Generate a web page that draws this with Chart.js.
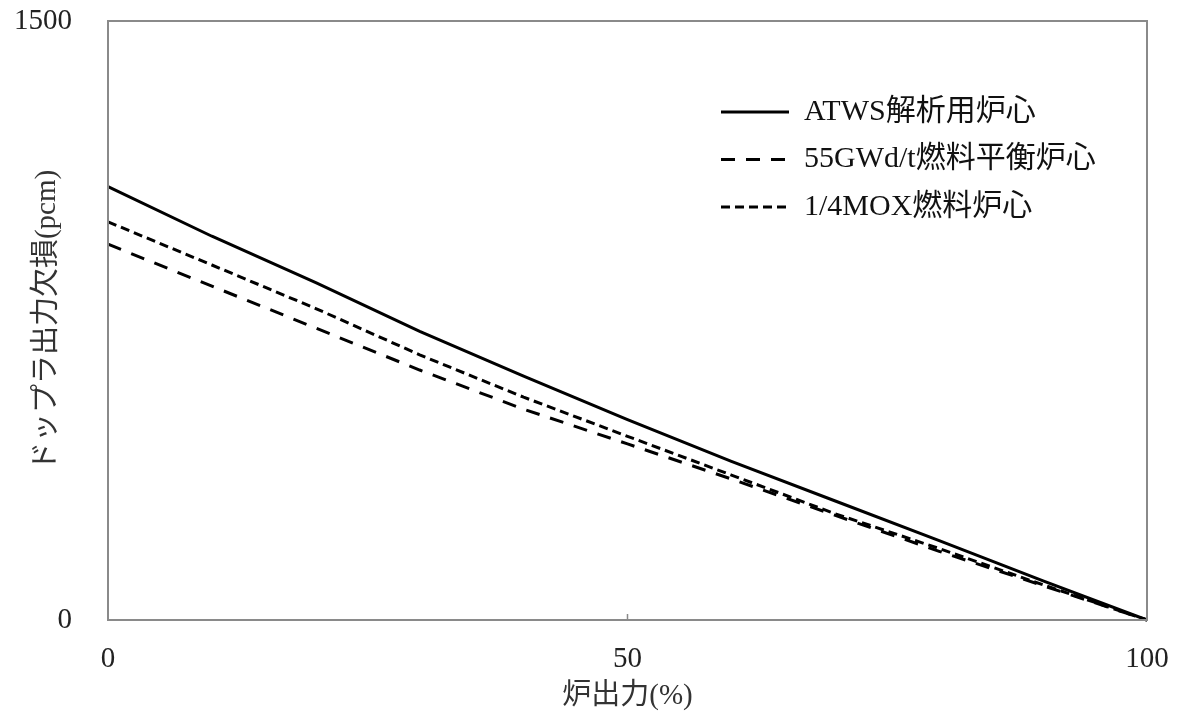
<!DOCTYPE html>
<html><head><meta charset="utf-8">
<script src="https://cdn.jsdelivr.net/npm/chart.js@4.4.1/dist/chart.umd.min.js"></script>
<style>html,body{margin:0;padding:0;background:#fff;}</style>
</head><body>
<canvas id="c" width="1184" height="717" style="display:block;width:1184px;height:717px"></canvas>
<script>
// Data (x = reactor power %, y = Doppler power defect, pcm)
const powerPct   = [0, 10, 20, 30, 40, 50, 60, 70, 80, 90, 100];
const atwsCore   = [1085, 961, 845, 723, 611, 502, 397, 298, 199, 98, 0];
const gwd55Core  = [941, 836, 731, 626, 528, 441, 353, 262, 172, 86, 0];
const moxCore    = [997, 889, 780, 664, 558, 460, 363, 266, 179, 88, 0];
const seriesNames = ['ATWS解析用炉心', '55GWd/t燃料平衡炉心', '1/4MOX燃料炉心'];
const xTicks = [0, 50, 100];
const yTicks = [0, 1500];
const xTitle = '炉出力(%)';
const yTitle = 'ドップラ出力欠損(pcm)';

const FONT = "'Liberation Serif', 'Noto Sans CJK JP', serif";
const toPts = arr => arr.map((v, i) => ({x: powerPct[i], y: v}));

const frame = {
  id: 'frame',
  afterLayout(chart) {
    const lg = chart.legend;
    const pad = lg.options.labels.padding;
    const w = lg.width, h = lg.height;
    lg.left = 721 - pad; lg.top = 97 - pad;
    lg.right = lg.left + w; lg.bottom = lg.top + h;
  },
  afterDatasetsDraw(chart) {
    const {ctx, chartArea: a, scales} = chart;
    ctx.save();
    ctx.strokeStyle = '#8a8a8a';
    ctx.lineWidth = 2;
    ctx.strokeRect(a.left, a.top, a.right - a.left, a.bottom - a.top);
    ctx.lineWidth = 1.5;
    scales.x.ticks.forEach(t => {
      const px = scales.x.getPixelForValue(t.value);
      ctx.beginPath(); ctx.moveTo(px, a.bottom); ctx.lineTo(px, a.bottom - 6); ctx.stroke();
    });
    ctx.restore();
  }
};

new Chart(document.getElementById('c'), {
  type: 'line',
  data: {
    datasets: [
      {label: seriesNames[0], data: toPts(atwsCore), borderColor: '#000', borderWidth: 3, borderDash: []},
      {label: seriesNames[1], data: toPts(gwd55Core), borderColor: '#000', borderWidth: 3, borderDash: [14, 11]},
      {label: seriesNames[2], data: toPts(moxCore), borderColor: '#000', borderWidth: 3, borderDash: [9, 5]}
    ]
  },
  options: {
    responsive: false,
    animation: false,
    devicePixelRatio: 1,
    layout: {padding: {top: 21, right: 37, left: 0, bottom: 0}},
    elements: {point: {radius: 0}, line: {tension: 0, fill: false, borderCapStyle: 'butt'}},
    datasets: {line: {clip: false}},
    plugins: {
      tooltip: {enabled: false},
      legend: {
        position: 'chartArea',
        align: 'start',
        labels: {
          usePointStyle: true, pointStyle: 'line', pointStyleWidth: 68,
          font: {family: FONT, size: 30}, color: '#111', padding: 17.5,
          generateLabels(chart) {
            const items = Chart.defaults.plugins.legend.labels.generateLabels(chart);
            items.forEach(it => {
              const ds = chart.data.datasets[it.datasetIndex];
              it.lineDash = ds.borderDash;
              it.lineWidth = ds.borderWidth;
              it.strokeStyle = ds.borderColor;
              it.fillStyle = 'rgba(0,0,0,0)';
              it.pointStyle = 'line';
              it.lineCap = 'butt';
            });
            return items;
          }
        }
      }
    },
    scales: {
      x: {
        type: 'linear', min: 0, max: 100,
        afterBuildTicks: s => { s.ticks = xTicks.map(v => ({value: v})); },
        afterFit: s => { s.height = 97; s.paddingLeft = 0; s.paddingRight = 0; },
        grid: {display: false, drawTicks: false},
        border: {display: false},
        ticks: {font: {family: FONT, size: 29}, color: '#222', padding: 22, maxRotation: 0, callback: v => String(v)},
        title: {display: true, text: xTitle, font: {family: FONT, size: 29}, color: '#333', padding: {top: 0, bottom: 3}}
      },
      y: {
        type: 'linear', min: 0, max: 1500,
        afterBuildTicks: s => { s.ticks = yTicks.map(v => ({value: v})); },
        afterFit: s => { s.width = 108; s.paddingTop = 0; s.paddingBottom = 0; },
        grid: {display: false, drawTicks: false},
        border: {display: false},
        ticks: {font: {family: FONT, size: 29}, color: '#222', padding: 36, callback: v => String(v)},
        title: {display: true, text: yTitle, font: {family: FONT, size: 29}, color: '#333', padding: {top: 30, bottom: 0}}
      }
    }
  },
  plugins: [frame]
});
</script>
</body></html>
